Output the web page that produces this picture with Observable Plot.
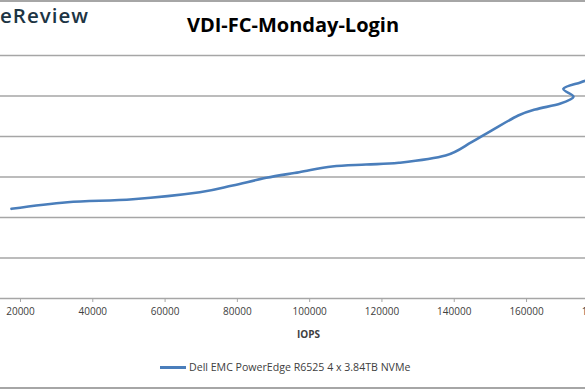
<!DOCTYPE html>
<html>
<head>
<meta charset="utf-8">
<script src="https://cdn.jsdelivr.net/npm/d3@7"></script>
<script src="https://cdn.jsdelivr.net/npm/@observablehq/plot@0.6"></script>
<style>
  html, body { margin: 0; padding: 0; background: #fff; }
  #wrap { position: relative; width: 585px; height: 390px; overflow: hidden; background: #fff; font-family: "Open Sans", sans-serif; }
  #wrap svg { position: absolute; left: 0; top: 0; }
  .frame { position: absolute; left: 0; width: 585px; height: 2px; background: #a6a6a6; }
  #logo { position: absolute; left: 0px; top: 1px; font-family: "Open Sans", sans-serif; font-size: 20.5px; letter-spacing: 1px; color: #1d3544; font-weight: 600; }
  #title { position: absolute; left: 0; width: 586px; top: 10.5px; text-align: center; font-family: "Open Sans", sans-serif; font-weight: 700; font-size: 20px; color: #000; white-space: nowrap; }
  #xlabel { position: absolute; left: 297px; top: 327px; font-weight: 700; font-size: 10px; color: #404040; }
  #legend { position: absolute; left: 160px; top: 360px; font-size: 10.6px; color: #404040; display: flex; align-items: center; }
  #legend .sw { width: 26px; height: 3px; background: #4a7ebb; margin-right: 3px; }
</style>
</head>
<body>
<div id="wrap">
  <div class="frame" style="top:0px"></div>
  <div class="frame" style="top:387px"></div>
  <div id="logo">eReview</div>
  <div id="title">VDI-FC-Monday-Login</div>
  <div id="xlabel">IOPS</div>
  <div id="legend"><span class="sw"></span><span id="legtext"></span></div>
</div>
<script>
// Series: Dell EMC PowerEdge R6525 4 x 3.84TB NVMe
const seriesName = "Dell EMC PowerEdge R6525 4 x 3.84TB NVMe";
const iops    = [17500, 33000, 51100, 69600, 78700, 88000, 97100, 106200, 115600, 124700, 137600, 144800, 150300, 157700, 162400, 169400, 173000, 170200, 174900, 178300];
const latency = [1.107, 1.189, 1.226, 1.312, 1.395, 1.490, 1.559, 1.630, 1.654, 1.675, 1.765, 1.930, 2.074, 2.259, 2.333, 2.407, 2.490, 2.590, 2.667, 2.716];
const xTicks = [20000, 40000, 60000, 80000, 100000, 120000, 140000, 160000, 180000];
const yGrid = [0.5, 1, 1.5, 2, 2.5, 3];

const data = iops.map((x, i) => ({x, y: latency[i]}));

document.getElementById("legtext").textContent = seriesName;

const chart = Plot.plot({
  width: 585,
  height: 390,
  marginLeft: 0,
  marginRight: 0,
  marginTop: 55,
  marginBottom: 92,
  style: {background: "transparent", fontFamily: "Open Sans, sans-serif"},
  x: {domain: [14467, 176314], axis: null},
  y: {domain: [0, 3], axis: null},
  marks: [
    Plot.ruleY(yGrid, {stroke: "#a6a6a6", strokeWidth: 1.3}),
    Plot.ruleY([0], {stroke: "#a6a6a6", strokeWidth: 1.3}),
    Plot.axisX(xTicks, {label: null, tickSize: 4, tickPadding: 5, tickFormat: d3.format("d"), fontSize: 10, stroke: "#a6a6a6", fill: "#404040"}),
    Plot.line(data, {x: "x", y: "y", stroke: "#4a7ebb", strokeWidth: 2.6, curve: "cardinal", tension: 0})
  ]
});
document.getElementById("wrap").insertBefore(chart, document.getElementById("logo"));
</script>
</body>
</html>
